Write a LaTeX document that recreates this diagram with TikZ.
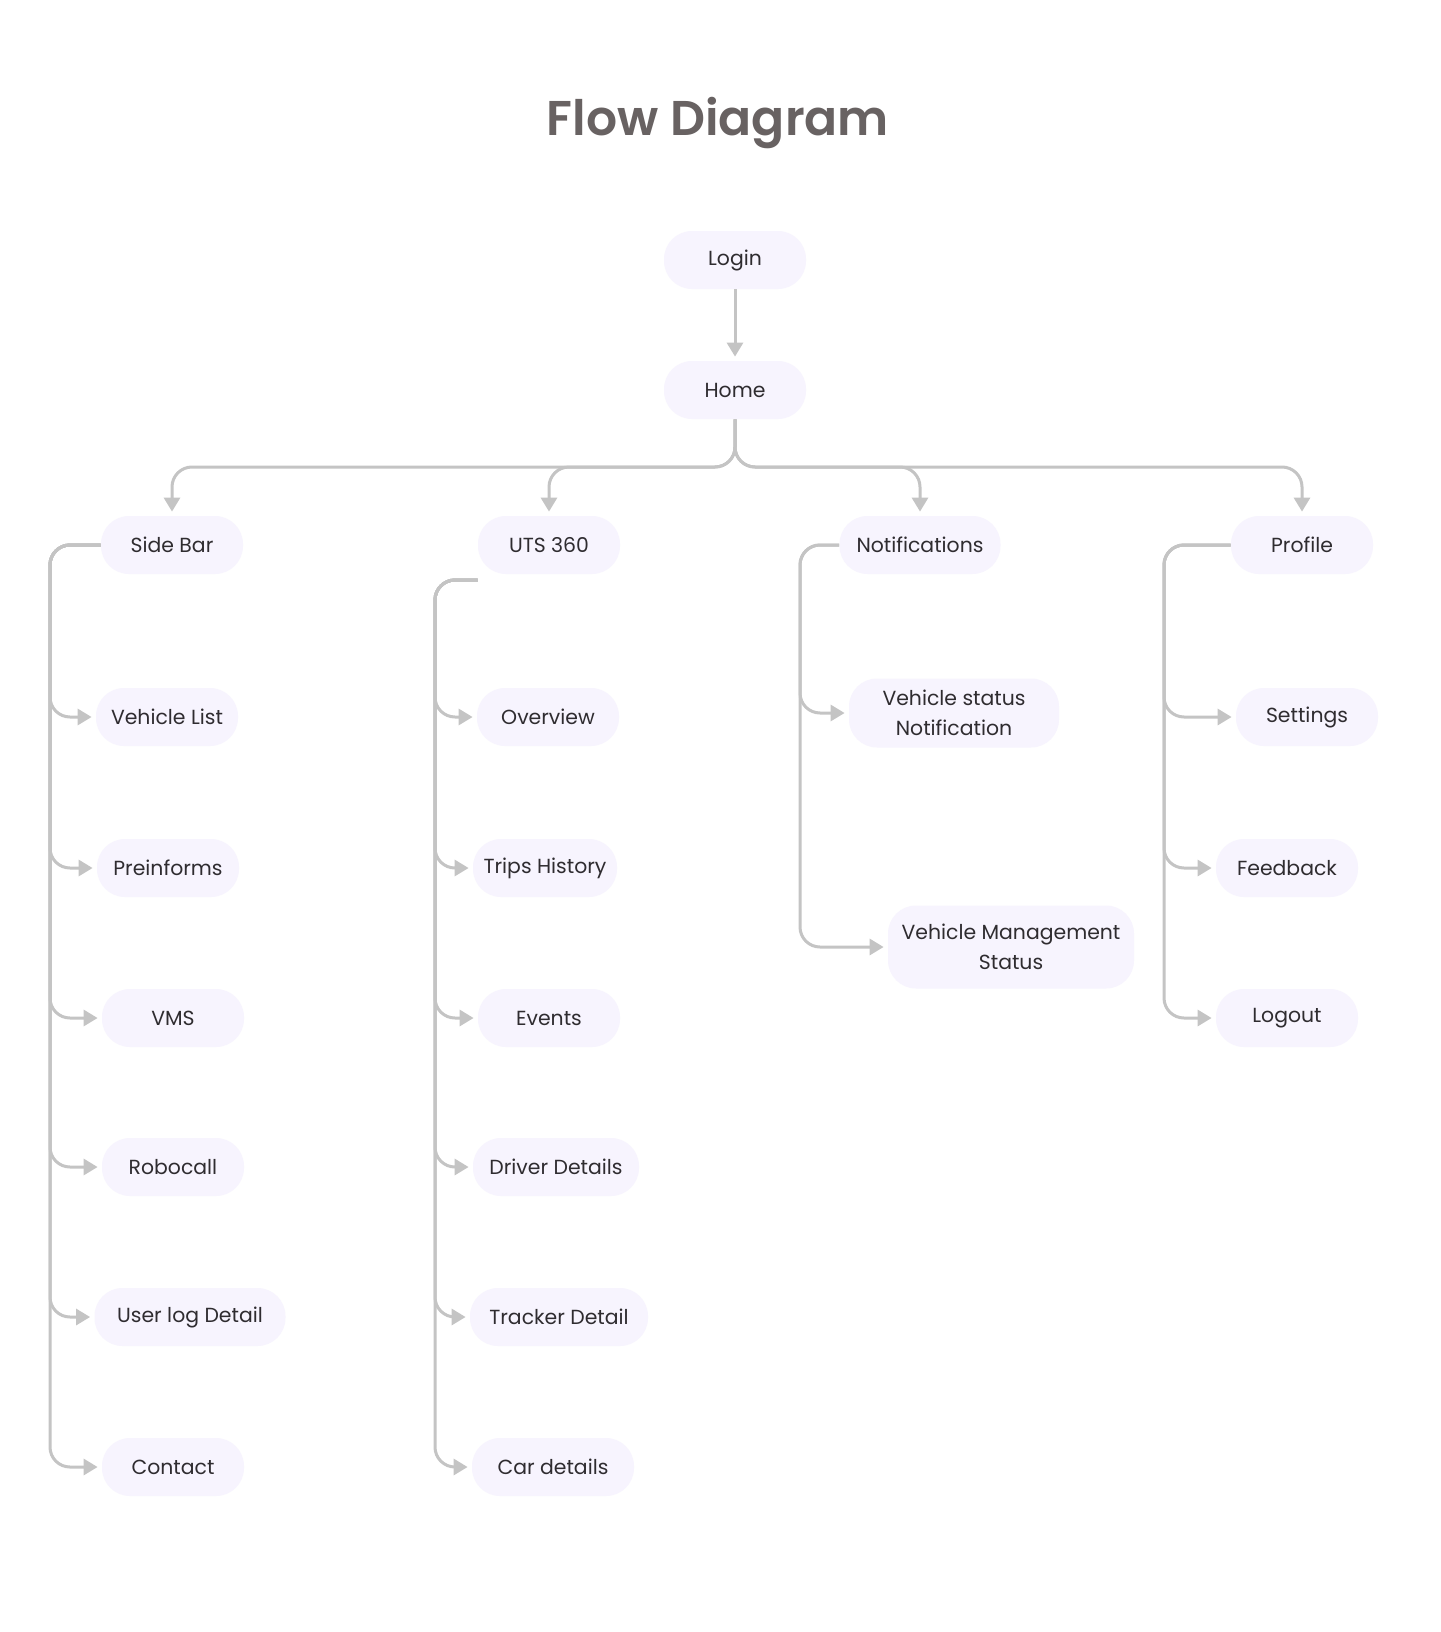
\documentclass[tikz,border=0pt]{standalone}
\usepackage{fontspec}
\setmainfont{Poppins}
\newfontfamily\titlefont{Poppins SemiBold}
\usetikzlibrary{arrows.meta}
\definecolor{pillfill}{HTML}{F7F4FE}
\definecolor{linegray}{HTML}{C4C4C4}
\definecolor{textdark}{HTML}{2F2C30}
\definecolor{titlegray}{HTML}{686262}
\begin{document}
\begin{tikzpicture}[x=0.5pt, y=-0.5pt,
    pill/.style={rectangle, rounded corners=14pt, fill=pillfill, text=textdark,
      font=\fontsize{10.2}{15}\selectfont, minimum height=29pt, minimum width=71pt,
      inner xsep=4pt, align=center},
    flow/.style={draw=linegray, line width=1.5pt, rounded corners=10pt,
      -{Triangle[length=7pt, width=8pt]}, shorten >=2pt}]
        \fill[white] (0,0) rectangle (1440,1632);
        \useasboundingbox (0,0) rectangle (1440,1632);

        % App flow
        \node[text=titlegray, font=\titlefont\fontsize{24.4}{28}\selectfont] (title) at (718,123) {Flow Diagram};
        \node[pill] (login) at (735,260) {Login};
        \node[pill] (home) at (735,390) {Home};
        \node[pill] (sidebar) at (172,545) {Side Bar};
        \node[pill] (uts) at (549,545) {UTS 360};
        \node[pill, minimum width=80.5pt] (notif) at (920,545) {Notifications};
        \node[pill] (profile) at (1302,545) {Profile};

        \node[pill] (vlist) at (167,717) {Vehicle List};
        \node[pill] (preinf) at (168,868) {Preinforms};
        \node[pill] (vms) at (173,1018) {VMS};
        \node[pill] (robo) at (173,1167) {Robocall};
        \node[pill, minimum width=95.5pt] (userlog) at (190,1317) {User log Detail};
        \node[pill] (contact) at (173,1467) {Contact};

        \node[pill] (overview) at (548,717) {Overview};
        \node[pill, minimum width=72pt] (trips) at (545,868) {Trips History};
        \node[pill] (events) at (549,1018) {Events};
        \node[pill, minimum width=83pt] (driver) at (556,1167) {Driver Details};
        \node[pill, minimum width=89pt] (tracker) at (559,1317) {Tracker Detail};
        \node[pill, minimum width=81pt] (cardet) at (553,1467) {Car details};

        \node[pill, minimum width=105pt, minimum height=34.5pt] (vsn) at (954,713) {Vehicle status\\Notification};
        \node[pill, minimum width=123pt, minimum height=41.5pt] (vmstat) at (1011,947) {Vehicle Management\\Status};

        \node[pill] (settings) at (1307,717) {Settings};
        \node[pill] (feedback) at (1287,868) {Feedback};
        \node[pill] (logout) at (1287,1018) {Logout};

        \coordinate (bus) at (735,467);
        \coordinate (sbrail) at (50,545);
        \coordinate (utsrail) at (435,580);
        \coordinate (notrail) at (800,545);
        \coordinate (prorail) at (1164,545);

        \draw[flow] (login) -- (home);
        \draw[flow] (home.south) -- (bus) -- (bus -| sidebar.north) -- (sidebar.north);
        \draw[flow] (home.south) -- (bus) -- (bus -| uts.north) -- (uts.north);
        \draw[flow] (home.south) -- (bus) -- (bus -| notif.north) -- (notif.north);
        \draw[flow] (home.south) -- (bus) -- (bus -| profile.north) -- (profile.north);

        \draw[flow] (sidebar.west) -- (sbrail) -- (sbrail |- vlist.west) -- (vlist.west);
        \draw[flow] (sidebar.west) -- (sbrail) -- (sbrail |- preinf.west) -- (preinf.west);
        \draw[flow] (sidebar.west) -- (sbrail) -- (sbrail |- vms.west) -- (vms.west);
        \draw[flow] (sidebar.west) -- (sbrail) -- (sbrail |- robo.west) -- (robo.west);
        \draw[flow] (sidebar.west) -- (sbrail) -- (sbrail |- userlog.west) -- (userlog.west);
        \draw[flow] (sidebar.west) -- (sbrail) -- (sbrail |- contact.west) -- (contact.west);

        \draw[flow] (uts.south west |- utsrail) -- (utsrail) -- (utsrail |- overview.west) -- (overview.west);
        \draw[flow] (uts.south west |- utsrail) -- (utsrail) -- (utsrail |- trips.west) -- (trips.west);
        \draw[flow] (uts.south west |- utsrail) -- (utsrail) -- (utsrail |- events.west) -- (events.west);
        \draw[flow] (uts.south west |- utsrail) -- (utsrail) -- (utsrail |- driver.west) -- (driver.west);
        \draw[flow] (uts.south west |- utsrail) -- (utsrail) -- (utsrail |- tracker.west) -- (tracker.west);
        \draw[flow] (uts.south west |- utsrail) -- (utsrail) -- (utsrail |- cardet.west) -- (cardet.west);

        \draw[flow] (notif.west) -- (notrail) -- (notrail |- vsn.west) -- (vsn.west);
        \draw[flow] (notif.west) -- (notrail) -- (notrail |- vmstat.west) -- (vmstat.west);

        \draw[flow] (profile.west) -- (prorail) -- (prorail |- settings.west) -- (settings.west);
        \draw[flow] (profile.west) -- (prorail) -- (prorail |- feedback.west) -- (feedback.west);
        \draw[flow] (profile.west) -- (prorail) -- (prorail |- logout.west) -- (logout.west);
    \end{tikzpicture}
\end{document}
